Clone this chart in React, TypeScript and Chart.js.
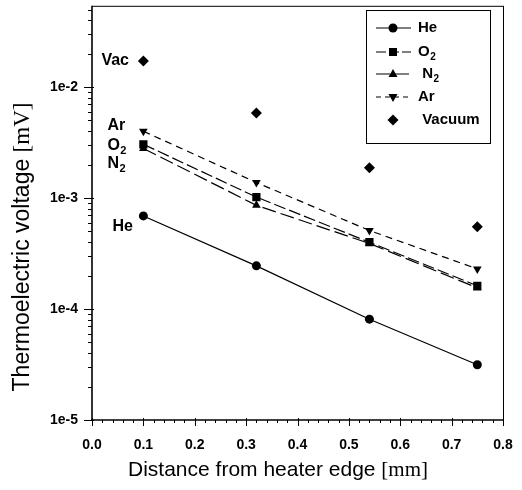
import React, { useEffect, useRef } from 'react';
import { Chart, registerables } from 'chart.js';

Chart.register(...registerables);

// ---- data ----
const distances = [0.1, 0.32, 0.54, 0.75];
const heValues = [6.9e-4, 2.45e-4, 8.1e-5, 3.15e-5];
const o2Values = [3.05e-3, 1.02e-3, 4.0e-4, 1.62e-4];
const n2Values = [2.8e-3, 8.6e-4, 3.9e-4, 1.55e-4];
const arValues = [4.0e-3, 1.38e-3, 5.1e-4, 2.3e-4];
const vacuumValues = [1.72e-2, 5.85e-3, 1.88e-3, 5.5e-4];

const xTickValues = [0, 0.1, 0.2, 0.3, 0.4, 0.5, 0.6, 0.7, 0.8];
const xTickLabels = ['0.0', '0.1', '0.2', '0.3', '0.4', '0.5', '0.6', '0.7', '0.8'];
const yTickValues = [1e-5, 1e-4, 1e-3, 1e-2];
const yTickLabels = ['1e-5', '1e-4', '1e-3', '1e-2'];
const xMin = 0;
const xMax = 0.8;
const yMin = 1e-5;
const yMax = 0.054;

const xTitle = 'Distance from heater edge ';
const xTitleUnit = '[mm]';
const yTitle = 'Thermoelectric voltage ';
const yTitleUnit = '[mV]';

const legendLabels: [string, string][] = [
  ['He', ''],
  ['O', '2'],
  [' N', '2'],
  ['Ar', ''],
  [' Vacuum', ''],
];

const SANS = "'Liberation Sans', Arial, sans-serif";
const SERIF = "'Liberation Serif', 'Times New Roman', serif";

type Marker = 'circle' | 'square' | 'triUp' | 'triDown' | 'diamond';

function drawMarker(ctx: CanvasRenderingContext2D, m: Marker, x: number, y: number) {
  ctx.beginPath();
  if (m === 'circle') {
    ctx.arc(x, y, 4.5, 0, Math.PI * 2);
  } else if (m === 'square') {
    ctx.rect(x - 4, y - 4, 8, 8);
  } else if (m === 'triUp') {
    ctx.moveTo(x, y - 5);
    ctx.lineTo(x + 4.5, y + 3);
    ctx.lineTo(x - 4.5, y + 3);
    ctx.closePath();
  } else if (m === 'triDown') {
    ctx.moveTo(x, y + 5);
    ctx.lineTo(x + 4.5, y - 3);
    ctx.lineTo(x - 4.5, y - 3);
    ctx.closePath();
  } else {
    ctx.moveTo(x, y - 5.5);
    ctx.lineTo(x + 5.5, y);
    ctx.lineTo(x, y + 5.5);
    ctx.lineTo(x - 5.5, y);
    ctx.closePath();
  }
  ctx.fill();
}

function drawSub(ctx: CanvasRenderingContext2D, x: number, y: number, base: string, sub: string, size: number) {
  ctx.font = `bold ${size}px ${SANS}`;
  ctx.textAlign = 'left';
  ctx.textBaseline = 'middle';
  ctx.fillText(base, x, y);
  if (sub) {
    const w = ctx.measureText(base).width;
    ctx.font = `bold ${Math.round(size * 0.68)}px ${SANS}`;
    ctx.fillText(sub, x + w + 0.5, y + size * 0.35);
  }
}

const decorPlugin = {
  id: 'decor',
  afterDraw(chart: any) {
    const ctx: CanvasRenderingContext2D = chart.ctx;
    const { left, right, top, bottom } = chart.chartArea;
    const xs = chart.scales.x;
    const ys = chart.scales.y;
    const line = (x1: number, y1: number, x2: number, y2: number) => {
      ctx.beginPath();
      ctx.moveTo(x1, y1);
      ctx.lineTo(x2, y2);
      ctx.stroke();
    };
    ctx.save();
    ctx.strokeStyle = '#000';
    ctx.fillStyle = '#000';
    ctx.setLineDash([]);
    // frame
    ctx.lineWidth = 1.6;
    line(left, top, left, bottom + 1);
    line(left - 1, bottom, right, bottom);
    ctx.lineWidth = 1;
    line(left, top + 0.5, right, top + 0.5);
    line(right + 0.5, top, right + 0.5, bottom);
    // x ticks (minor every 0.02)
    for (let i = 0; i <= 40; i++) {
      const v = (i * (xMax - xMin)) / 40 + xMin;
      const px = Math.round(xs.getPixelForValue(v)) + 0.5;
      const major = i % 5 === 0;
      line(px, bottom - (major ? 2 : 0), px, bottom + (major ? 6 : 3));
    }
    // y ticks (log minors)
    for (let e = -5; e <= -2; e++) {
      for (let m = 1; m <= 9; m++) {
        const v = m * Math.pow(10, e);
        if (v > yMax) break;
        const py = Math.round(ys.getPixelForValue(v)) + 0.5;
        line(left - (m === 1 ? 8 : 4), py, left + (m === 1 ? 2 : 0), py);
      }
    }
    // axis titles
    ctx.textBaseline = 'middle';
    ctx.textAlign = 'left';
    const xSize = 21;
    ctx.font = `${xSize}px ${SANS}`;
    const xw1 = ctx.measureText(xTitle).width;
    ctx.font = `${xSize}px ${SERIF}`;
    const xw2 = ctx.measureText(xTitleUnit).width;
    const xStart = 278 - (xw1 + xw2) / 2;
    ctx.font = `${xSize}px ${SANS}`;
    ctx.fillText(xTitle, xStart, 470);
    ctx.font = `${xSize}px ${SERIF}`;
    ctx.fillText(xTitleUnit, xStart + xw1, 470);

    const ySize = 23;
    ctx.save();
    ctx.translate(23, 247);
    ctx.rotate(-Math.PI / 2);
    ctx.font = `${ySize}px ${SANS}`;
    const yw1 = ctx.measureText(yTitle).width;
    ctx.font = `${ySize}px ${SERIF}`;
    const yw2 = ctx.measureText(yTitleUnit).width;
    const yStart = -(yw1 + yw2) / 2;
    ctx.font = `${ySize}px ${SANS}`;
    ctx.fillText(yTitle, yStart, 0);
    ctx.font = `${ySize}px ${SERIF}`;
    ctx.fillText(yTitleUnit, yStart + yw1, 0);
    ctx.restore();

    // in-plot labels
    const p0 = xs.getPixelForValue(distances[0]);
    drawSub(ctx, p0 - 42, ys.getPixelForValue(vacuumValues[0]), 'Vac', '', 16);
    drawSub(ctx, p0 - 36, ys.getPixelForValue(arValues[0]) - 6, 'Ar', '', 16);
    drawSub(ctx, p0 - 36, ys.getPixelForValue(o2Values[0]) + 1, 'O', '2', 16);
    drawSub(ctx, p0 - 36, ys.getPixelForValue(n2Values[0]) + 15, 'N', '2', 16);
    drawSub(ctx, p0 - 31, ys.getPixelForValue(heValues[0]) + 11, 'He', '', 16);

    // legend
    const lx = 366.5, ly = 10.5, lw = 124, lh = 133;
    ctx.lineWidth = 1;
    ctx.setLineDash([]);
    ctx.strokeRect(lx, ly, lw, lh);
    const rows = [28, 52, 74, 97, 120];
    const markers: Marker[] = ['circle', 'square', 'triUp', 'triDown', 'diamond'];
    const dashes = [[], [10, 3], [14, 5], [5, 4], []];
    rows.forEach((ry, i) => {
      ctx.lineWidth = 1.2;
      ctx.setLineDash(dashes[i]);
      if (i < 4) line(376, ry, 411, ry);
      ctx.setLineDash([]);
      drawMarker(ctx, markers[i], 393, ry);
      drawSub(ctx, 418, ry, legendLabels[i][0], legendLabels[i][1], 15);
    });
    ctx.restore();
  },
};

export default function App() {
  const canvasRef = useRef<HTMLCanvasElement | null>(null);

  useEffect(() => {
    if (!canvasRef.current) return;
    const mk = (vals: number[]) => distances.map((d, i) => ({ x: d, y: vals[i] }));
    const base = {
      borderColor: '#000',
      backgroundColor: '#000',
      pointBackgroundColor: '#000',
      pointBorderColor: '#000',
      borderWidth: 1.2,
      pointBorderWidth: 0,
    };
    const chart = new Chart(canvasRef.current, {
      type: 'line',
      data: {
        datasets: [
          { ...base, label: 'He', data: mk(heValues), pointStyle: 'circle', pointRadius: 4.5 },
          { ...base, label: 'O2', data: mk(o2Values), borderDash: [12, 4], pointStyle: 'rect', pointRadius: 5.8 },
          { ...base, label: 'N2', data: mk(n2Values), borderDash: [14, 5], pointStyle: 'triangle', pointRadius: 5 },
          { ...base, label: 'Ar', data: mk(arValues), borderDash: [7, 5], pointStyle: 'triangle', pointRotation: 180, pointRadius: 5 },
          { ...base, label: 'Vacuum', data: mk(vacuumValues), showLine: false, pointStyle: 'rectRot', pointRadius: 5.5 },
        ] as any,
      },
      options: {
        responsive: false,
        animation: false,
        devicePixelRatio: 1,
        layout: { padding: { top: 5, right: 19, left: 0, bottom: 0 } },
        plugins: { legend: { display: false }, tooltip: { enabled: false } },
        scales: {
          x: {
            type: 'linear',
            min: xMin,
            max: xMax,
            grid: { display: false, drawTicks: false },
            border: { display: false },
            afterBuildTicks: (s: any) => {
              s.ticks = xTickValues.map((v) => ({ value: v }));
            },
            afterFit: (s: any) => {
              s.height = 70;
              s.paddingLeft = 0;
              s.paddingRight = 0;
            },
            ticks: {
              autoSkip: false,
              maxRotation: 0,
              padding: 17,
              color: '#000',
              font: { family: SANS, size: 14, weight: 'bold' },
              callback: (_v: any, i: number) => xTickLabels[i],
            },
          },
          y: {
            type: 'logarithmic',
            min: yMin,
            max: yMax,
            grid: { display: false, drawTicks: false },
            border: { display: false },
            afterBuildTicks: (s: any) => {
              s.ticks = yTickValues.map((v) => ({ value: v }));
            },
            afterFit: (s: any) => {
              s.width = 92;
              s.paddingTop = 0;
              s.paddingBottom = 0;
            },
            ticks: {
              autoSkip: false,
              padding: 14,
              color: '#000',
              font: { family: SANS, size: 14, weight: 'bold' },
              callback: (_v: any, i: number) => yTickLabels[i],
            },
          },
        },
      } as any,
      plugins: [decorPlugin],
    });
    return () => chart.destroy();
  }, []);

  return (
    <div style={{ position: 'fixed', left: 0, top: 0, width: 522, height: 490, background: '#fff' }}>
      <canvas ref={canvasRef} width={522} height={490} />
    </div>
  );
}
